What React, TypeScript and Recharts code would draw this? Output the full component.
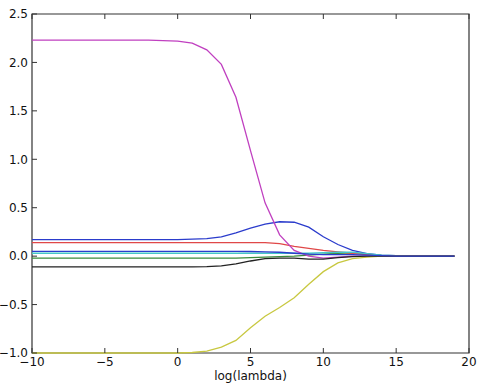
import React from "react";
import { LineChart, Line, XAxis, YAxis, ReferenceArea } from "recharts";

// log(lambda) grid, one point per integer step
const logLambda = [
  -10, -9, -8, -7, -6, -5, -4, -3, -2, -1, 0, 1, 2, 3, 4, 5, 6, 7, 8, 9, 10, 11, 12, 13, 14, 15, 16, 17, 18, 19,
];

// coefficient paths
const coefBlue = [
  0.17, 0.17, 0.17, 0.17, 0.17, 0.17, 0.17, 0.17, 0.17, 0.17, 0.17, 0.175, 0.18, 0.2, 0.24, 0.29, 0.33, 0.355, 0.35,
  0.3, 0.2, 0.12, 0.06, 0.025, 0.01, 0.005, 0.002, 0, 0, 0,
];
const coefGreen = [
  -0.02, -0.02, -0.02, -0.02, -0.02, -0.02, -0.02, -0.02, -0.02, -0.02, -0.02, -0.02, -0.02, -0.02, -0.02, -0.015,
  -0.01, -0.005, 0, 0.01, 0.02, 0.03, 0.035, 0.02, 0.005, 0, 0, 0, 0, 0,
];
const coefRed = [
  0.14, 0.14, 0.14, 0.14, 0.14, 0.14, 0.14, 0.14, 0.14, 0.14, 0.14, 0.14, 0.14, 0.14, 0.14, 0.14, 0.14, 0.13, 0.1,
  0.08, 0.06, 0.045, 0.03, 0.015, 0.005, 0, 0, 0, 0, 0,
];
const coefCyan = [
  0.03, 0.03, 0.03, 0.03, 0.03, 0.03, 0.03, 0.03, 0.03, 0.03, 0.03, 0.03, 0.03, 0.03, 0.03, 0.03, 0.03, 0.03, 0.03,
  0.03, 0.035, 0.04, 0.04, 0.025, 0.01, 0.005, 0, 0, 0, 0,
];
const coefMagenta = [
  2.23, 2.23, 2.23, 2.23, 2.23, 2.23, 2.23, 2.23, 2.23, 2.225, 2.22, 2.2, 2.13, 1.98, 1.64, 1.09, 0.55, 0.22, 0.06,
  0.0, -0.02, -0.01, 0, 0, 0, 0, 0, 0, 0, 0,
];
const coefYellow = [
  -1.0, -1.0, -1.0, -1.0, -1.0, -1.0, -1.0, -1.0, -1.0, -1.0, -1.0, -0.995, -0.98, -0.94, -0.87, -0.74, -0.62, -0.53,
  -0.43, -0.29, -0.16, -0.07, -0.025, -0.01, 0, 0, 0, 0, 0, 0,
];
const coefBlack = [
  -0.11, -0.11, -0.11, -0.11, -0.11, -0.11, -0.11, -0.11, -0.11, -0.11, -0.11, -0.11, -0.108, -0.1, -0.08, -0.05,
  -0.025, -0.02, -0.02, -0.03, -0.03, -0.015, -0.005, 0, 0, 0, 0, 0, 0, 0,
];
const coefBlue2 = [
  0.05, 0.05, 0.05, 0.05, 0.05, 0.05, 0.05, 0.05, 0.05, 0.05, 0.05, 0.05, 0.05, 0.05, 0.05, 0.048, 0.045, 0.04, 0.03,
  0.02, 0.015, 0.015, 0.015, 0.01, 0.005, 0, 0, 0, 0, 0,
];

const xTicks = [-10, -5, 0, 5, 10, 15, 20];
const yTicks = [-1.0, -0.5, 0.0, 0.5, 1.0, 1.5, 2.0, 2.5];

const series = [
  { key: "b", values: coefBlue, color: "#2b3ccc" },
  { key: "g", values: coefGreen, color: "#3a8a3a" },
  { key: "r", values: coefRed, color: "#e04848" },
  { key: "c", values: coefCyan, color: "#45c8c8" },
  { key: "m", values: coefMagenta, color: "#c040c0" },
  { key: "y", values: coefYellow, color: "#c8c840" },
  { key: "k", values: coefBlack, color: "#222222" },
  { key: "b2", values: coefBlue2, color: "#2b3ccc" },
];

const data = logLambda.map((x, i) => {
  const row: Record<string, number> = { x };
  series.forEach((s) => (row[s.key] = s.values[i]));
  return row;
});

const fmt = (v: number) => v.toFixed(1).replace("-", "\u2212");
const fmtInt = (v: number) => String(v).replace("-", "\u2212");
const blank = () => "";

const font = { fontFamily: "DejaVu Sans", fontSize: 12, fill: "#111" };
const frame = { stroke: "#333", strokeWidth: 1 };

export default function App() {
  return (
    <div style={{ position: "fixed", left: 0, top: 0, background: "#fff" }}>
      <LineChart width={500} height={388} data={data} margin={{ top: 13, right: 0, bottom: 0, left: 0 }}>
        <XAxis
          xAxisId="bottom"
          dataKey="x"
          type="number"
          domain={[-10, 20]}
          ticks={xTicks}
          tickFormatter={fmtInt}
          height={35}
          tickSize={-5}
          tickMargin={9}
          axisLine={false}
          tickLine={frame}
          tick={font}
          interval={0}
          label={{ value: "log(lambda)", position: "insideBottom", offset: 8, style: { ...font } }}
        />
        <XAxis
          xAxisId="top"
          orientation="top"
          dataKey="x"
          type="number"
          domain={[-10, 20]}
          ticks={xTicks}
          tickFormatter={blank}
          height={1}
          tickSize={-5}
          axisLine={false}
          tickLine={frame}
          interval={0}
        />
        <YAxis
          yAxisId="left"
          type="number"
          domain={[-1, 2.5]}
          ticks={yTicks}
          tickFormatter={fmt}
          width={32}
          tickSize={-5}
          tickMargin={9}
          axisLine={false}
          tickLine={frame}
          tick={font}
          interval={0}
        />
        <YAxis
          yAxisId="right"
          orientation="right"
          type="number"
          domain={[-1, 2.5]}
          ticks={yTicks}
          tickFormatter={blank}
          width={31}
          tickSize={-5}
          axisLine={false}
          tickLine={frame}
          interval={0}
        />
        {series.map((s) => (
          <Line
            key={s.key}
            xAxisId="bottom"
            yAxisId="left"
            type="linear"
            dataKey={s.key}
            stroke={s.color}
            strokeWidth={1.3}
            dot={false}
            isAnimationActive={false}
          />
        ))}
        <ReferenceArea
          xAxisId="bottom"
          yAxisId="left"
          x1={-10}
          x2={20}
          y1={-1}
          y2={2.5}
          fill="none"
          stroke="#333"
          strokeWidth={1.2}
          ifOverflow="visible"
        />
      </LineChart>
    </div>
  );
}
